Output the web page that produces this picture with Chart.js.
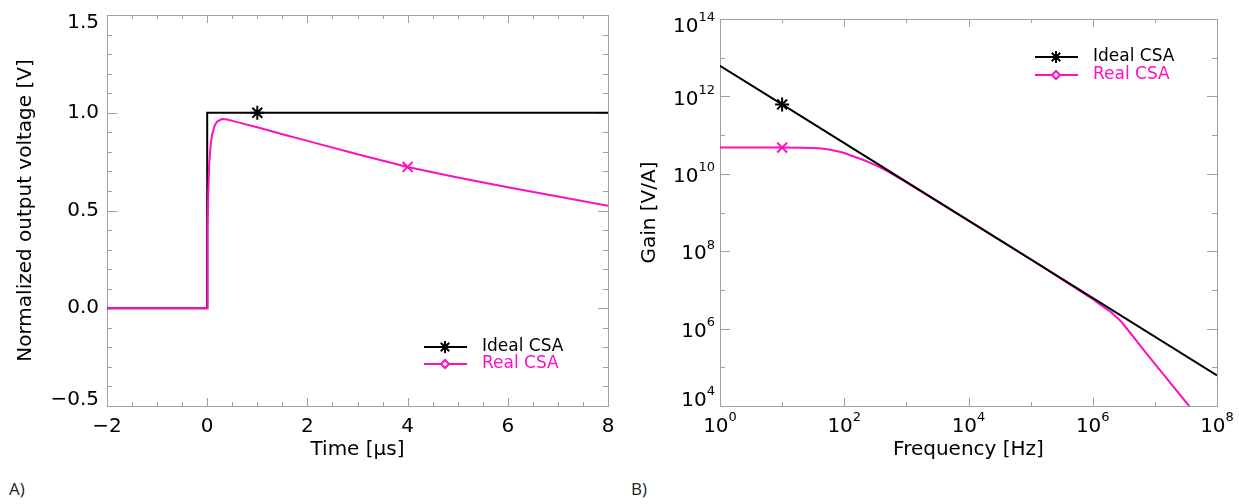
<!DOCTYPE html>
<html>
<head>
<meta charset="utf-8">
<script src="https://cdn.jsdelivr.net/npm/chart.js@4.4.0/dist/chart.umd.min.js"></script>
<style>
    body { margin: 0; background: #fff; width: 1239px; height: 504px; position: relative; overflow: hidden; }
    canvas { position: absolute; top: 0; }
    #chartA { left: 0; }
    #chartB { left: 620px; }
    .tag { position: absolute; top: 477px; font-family: "Open Sans", sans-serif; font-size: 17px; color: #222; }
</style>
</head>
<body>
<canvas id="chartA" width="620" height="470"></canvas>
<canvas id="chartB" width="619" height="470"></canvas>
<div class="tag" style="left:9px">A)</div>
<div class="tag" style="left:631px">B)</div>
<script>
// Panel A - time response (time in us, normalized voltage)
const timeIdeal = [-2, 0, 0, 1, 8];
const voltIdeal = [0, 0, 1, 1, 1];
const timeReal = [-2, 0, 0.005, 0.01, 0.02, 0.04, 0.07, 0.1, 0.15, 0.2, 0.29, 0.4, 0.6, 1, 1.5, 2, 3, 4, 5, 6, 7, 8];
const voltReal = [0, 0, 0.2, 0.4, 0.58, 0.74, 0.84, 0.89, 0.935, 0.955, 0.968, 0.965, 0.952, 0.926, 0.89, 0.856, 0.788, 0.723, 0.669, 0.619, 0.572, 0.524];
const timeTicks = [-2, 0, 2, 4, 6, 8];
const voltTicks = [-0.5, 0, 0.5, 1, 1.5];

// Panel B - gain vs frequency
const freqIdeal = [1, 10, 1e8];
const gainIdeal = [6.2e12, 6.2e11, 6.2e4];
const freqReal = [1, 10, 20, 40, 60, 84, 100, 146, 200, 257, 350, 500, 1e3, 1e4, 1e5, 1e6, 1.3e6, 2e6, 2.9e6, 7.3e6, 3.55e7, 5e7];
const gainReal = [4.75e10, 4.75e10, 4.7e10, 4.55e10, 4.2e10, 3.7e10, 3.45e10, 2.75e10, 2.3e10, 1.95e10, 1.55e10, 1.15e10, 6.0e9, 6.2e8, 6.2e7, 5.8e6, 4.2e6, 2.6e6, 1.5e6, 2.3e5, 1.0e4, 5.0e3];
const freqTicks = [1, 1e2, 1e4, 1e6, 1e8];
const gainTicks = [1e4, 1e6, 1e8, 1e10, 1e12, 1e14];

const PINK = '#ff0fbf';
const FRAME = '#a0a0a0';
const FONT = 'DejaVu Sans';

function toXY(xs, ys) {
    return xs.map((x, i) => ({ x, y: ys[i] }));
}

function fmtTime(v) {
    return { base: v < 0 ? '\u2212' + Math.abs(v) : String(v), exp: '' };
}

function fmtVolt(v) {
    return { base: v < 0 ? '\u2212' + Math.abs(v).toFixed(1) : v.toFixed(1), exp: '' };
}

function fmtPow(v) {
    return { base: '10', exp: String(Math.round(Math.log10(v))) };
}

function markerAt(idx, r) {
    return (ctx) => (ctx.dataIndex === idx ? r : 0);
}

// inward ticks on all four sides, plus the frame (under the curves)
const frameTicks = {
    id: 'frameTicks',
    beforeDatasetsDraw(chart, args, opts) {
        const { ctx, chartArea: a, scales } = chart;
        ctx.save();
        ctx.strokeStyle = FRAME;
        ctx.lineWidth = 1;
        ctx.beginPath();
        opts.x.forEach(([v, len]) => {
            const px = Math.round(scales.x.getPixelForValue(v)) + 0.5;
            ctx.moveTo(px, a.bottom); ctx.lineTo(px, a.bottom - len);
            ctx.moveTo(px, a.top); ctx.lineTo(px, a.top + len);
        });
        opts.y.forEach(([v, len]) => {
            const py = Math.round(scales.y.getPixelForValue(v)) + 0.5;
            ctx.moveTo(a.left, py); ctx.lineTo(a.left + len, py);
            ctx.moveTo(a.right, py); ctx.lineTo(a.right - len, py);
        });
        ctx.stroke();
        ctx.strokeRect(Math.round(a.left) + 0.5, Math.round(a.top) + 0.5, Math.round(a.right - a.left), Math.round(a.bottom - a.top));
        ctx.restore();
    }
};

// tick labels, with a raised exponent for the log axes
function drawLabel(ctx, parts, x, y, align) {
    ctx.font = '20px "' + FONT + '"';
    const wb = ctx.measureText(parts.base).width;
    ctx.font = '13px "' + FONT + '"';
    const we = parts.exp ? ctx.measureText(parts.exp).width : 0;
    const start = align === 'right' ? x - wb - we : x - (wb + we) / 2;
    ctx.textAlign = 'left';
    ctx.textBaseline = 'middle';
    ctx.font = '20px "' + FONT + '"';
    ctx.fillText(parts.base, start, y);
    if (parts.exp) {
        ctx.font = '13px "' + FONT + '"';
        ctx.fillText(parts.exp, start + wb, y - 9);
    }
}

const axisLabels = {
    id: 'axisLabels',
    afterDraw(chart, args, opts) {
        const { ctx, chartArea: a, scales } = chart;
        ctx.save();
        ctx.fillStyle = '#000';
        opts.x.forEach(v => {
            drawLabel(ctx, opts.fmtX(v), scales.x.getPixelForValue(v), a.bottom + opts.xGap, 'center');
        });
        opts.y.forEach(v => {
            let py = scales.y.getPixelForValue(v) + opts.yShift;
            py = Math.min(Math.max(py, a.top + 8), a.bottom - opts.bottomInset);
            drawLabel(ctx, opts.fmtY(v), a.left - opts.yGap, py, 'right');
        });
        ctx.restore();
    }
};

// legend entries drawn as line + marker + text
const lineLegend = {
    id: 'lineLegend',
    afterDraw(chart, args, opts) {
        const ctx = chart.ctx;
        ctx.save();
        opts.items.forEach((item, i) => {
            const y = opts.y + i * opts.gap;
            ctx.strokeStyle = item.color;
            ctx.lineWidth = 2;
            ctx.beginPath();
            ctx.moveTo(opts.x, y);
            ctx.lineTo(opts.x + 43, y);
            ctx.stroke();
            ctx.fillStyle = '#fff';
            Chart.helpers.drawPoint(ctx, { pointStyle: item.style, radius: item.radius, borderWidth: 2 }, opts.x + 21, y);
            ctx.fillStyle = item.color;
            ctx.font = '17px "' + FONT + '"';
            ctx.textAlign = 'left';
            ctx.textBaseline = 'middle';
            ctx.fillText(item.label, opts.x + 58, y);
        });
        ctx.restore();
    }
};

const titleFont = { family: FONT, size: 20 };

function fixX(s, h) {
    s.height = h;
    s.paddingLeft = 0;
    s.paddingRight = 0;
}

function fixY(s, w) {
    s.width = w;
    s.paddingTop = 0;
    s.paddingBottom = 0;
}

// ---- Panel A
const aXTicks = [];
for (let v = -2; v <= 8.001; v += 0.5) aXTicks.push([v, Math.abs(v % 2) < 1e-6 ? 8 : 4]);
const aYTicks = [];
for (let k = -5; k <= 15; k++) aYTicks.push([k / 10, k % 5 === 0 ? 10 : 5]);

new Chart(document.getElementById('chartA'), {
    type: 'line',
    data: {
        datasets: [{
            label: 'Real CSA',
            data: toXY(timeReal, voltReal),
            borderColor: PINK,
            borderWidth: 2,
            pointStyle: 'crossRot',
            pointRadius: markerAt(17, 7),
            pointBorderWidth: 2,
            pointBorderColor: PINK,
            order: 0
        }, {
            label: 'Ideal CSA',
            data: toXY(timeIdeal, voltIdeal),
            borderColor: '#000',
            borderWidth: 2,
            pointStyle: 'star',
            pointRadius: markerAt(3, 7),
            pointBorderWidth: 2,
            pointBorderColor: '#000',
            order: 1
        }]
    },
    options: {
        responsive: false,
        animation: false,
        layout: { padding: { left: 0, right: 12, top: 15, bottom: 0 } },
        scales: {
            x: {
                type: 'linear', min: -2, max: 8,
                afterFit: (s) => fixX(s, 64),
                grid: { display: false, drawTicks: false },
                border: { display: false },
                ticks: { display: false },
                title: { display: true, text: 'Time [\u03bcs]', font: titleFont, color: '#000', padding: { bottom: 8 } }
            },
            y: {
                type: 'linear', min: -0.5, max: 1.5,
                afterFit: (s) => fixY(s, 107),
                grid: { display: false, drawTicks: false },
                border: { display: false },
                ticks: { display: false },
                title: { display: true, text: 'Normalized output voltage [V]', font: titleFont, color: '#000', padding: { top: 14 } }
            }
        },
        plugins: {
            legend: { display: false },
            tooltip: { enabled: false },
            frameTicks: { x: aXTicks, y: aYTicks },
            axisLabels: { x: timeTicks, y: voltTicks, fmtX: fmtTime, fmtY: fmtVolt, xGap: 21, yGap: 8, yShift: 0, bottomInset: 6 },
            lineLegend: {
                x: 424, y: 347, gap: 17,
                items: [
                    { label: 'Ideal CSA', color: '#000', style: 'star', radius: 6 },
                    { label: 'Real CSA', color: PINK, style: 'rectRot', radius: 4 }
                ]
            }
        }
    },
    plugins: [frameTicks, axisLabels, lineLegend]
});

// ---- Panel B
const bXTicks = [];
for (let e = 0; e <= 8; e++) bXTicks.push([Math.pow(10, e), e % 2 === 0 ? 8 : 4]);
const bYTicks = [];
for (let e = 4; e <= 14; e++) bYTicks.push([Math.pow(10, e), e % 2 === 0 ? 10 : 5]);

new Chart(document.getElementById('chartB'), {
    type: 'line',
    data: {
        datasets: [{
            label: 'Ideal CSA',
            data: toXY(freqIdeal, gainIdeal),
            borderColor: '#000',
            borderWidth: 2,
            pointStyle: 'star',
            pointRadius: markerAt(1, 7),
            pointBorderWidth: 2,
            pointBorderColor: '#000',
            order: 0
        }, {
            label: 'Real CSA',
            data: toXY(freqReal, gainReal),
            borderColor: PINK,
            borderWidth: 2,
            pointStyle: 'crossRot',
            pointRadius: markerAt(1, 7),
            pointBorderWidth: 2,
            pointBorderColor: PINK,
            order: 1
        }]
    },
    options: {
        responsive: false,
        animation: false,
        layout: { padding: { left: 0, right: 22, top: 19, bottom: 0 } },
        scales: {
            x: {
                type: 'logarithmic', min: 1, max: 1e8,
                afterFit: (s) => fixX(s, 64),
                grid: { display: false, drawTicks: false },
                border: { display: false },
                ticks: { display: false },
                title: { display: true, text: 'Frequency [Hz]', font: titleFont, color: '#000', padding: { bottom: 8 } }
            },
            y: {
                type: 'logarithmic', min: 1e4, max: 1e14,
                afterFit: (s) => fixY(s, 100),
                grid: { display: false, drawTicks: false },
                border: { display: false },
                ticks: { display: false },
                title: { display: true, text: 'Gain [V/A]', font: titleFont, color: '#000', padding: { top: 18 } }
            }
        },
        plugins: {
            legend: { display: false },
            tooltip: { enabled: false },
            frameTicks: { x: bXTicks, y: bYTicks },
            axisLabels: { x: freqTicks, y: gainTicks, fmtX: fmtPow, fmtY: fmtPow, xGap: 21, yGap: 5, yShift: 3, bottomInset: 5 },
            lineLegend: {
                x: 415, y: 57, gap: 18,
                items: [
                    { label: 'Ideal CSA', color: '#000', style: 'star', radius: 6 },
                    { label: 'Real CSA', color: PINK, style: 'rectRot', radius: 4 }
                ]
            }
        }
    },
    plugins: [frameTicks, axisLabels, lineLegend]
});
</script>
</body>
</html>
